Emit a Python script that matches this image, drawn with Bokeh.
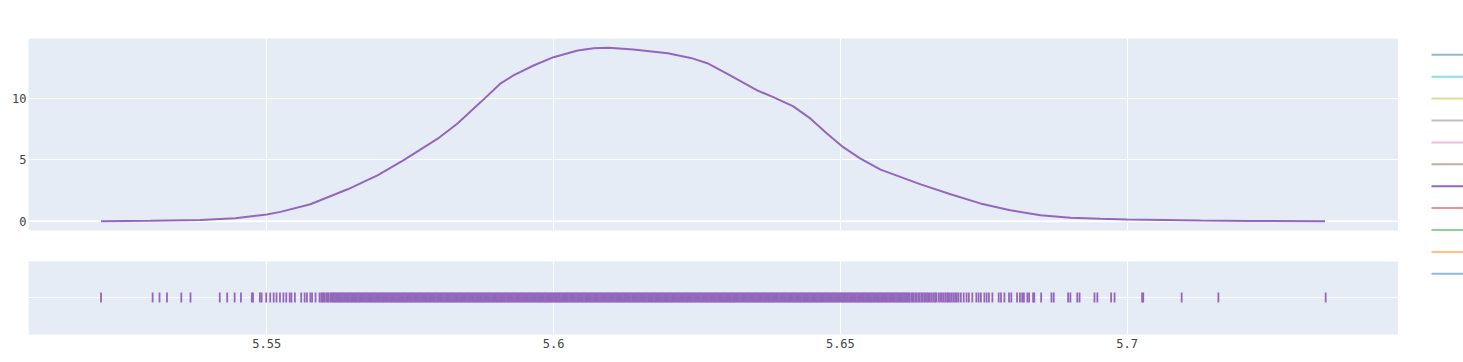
import numpy as np
from bokeh.plotting import figure
from bokeh.models import Range1d, FixedTicker, Span
from bokeh.layouts import row, column
from bokeh.embed import file_html
from bokeh.resources import INLINE

# ---------------- data ----------------
CURVE_X = [5.5211, 5.5297, 5.5384, 5.5445, 5.5500, 5.5524, 5.5576, 5.5641, 5.5693,
           5.5738, 5.5798, 5.5832, 5.5873, 5.5907, 5.5930, 5.5965, 5.6000, 5.6042,
           5.6070, 5.6096, 5.6139, 5.6199, 5.6239, 5.6268, 5.6303, 5.6355, 5.6383,
           5.6418, 5.6448, 5.6477, 5.6503, 5.6535, 5.6570, 5.6640, 5.6692, 5.6744,
           5.6796, 5.6849, 5.6901, 5.6953, 5.7000, 5.7128, 5.7215, 5.7345]
CURVE_Y = [0.0, 0.04, 0.10, 0.25, 0.55, 0.76, 1.38, 2.6, 3.74,
           4.96, 6.72, 7.94, 9.7, 11.2, 11.87, 12.68, 13.36, 13.9,
           14.09, 14.12, 13.98, 13.68, 13.3, 12.87, 12.0, 10.65, 10.1,
           9.35, 8.35, 7.13, 6.1, 5.1, 4.2, 3.0, 2.2, 1.45,
           0.9, 0.48, 0.28, 0.2, 0.14, 0.06, 0.02, 0.0]

# rug sample values, written as 5 + value * 1e-4
RUG_BASE = 5.0
RUG_X_E4 = [
    5211, 5301, 5313, 5326, 5351, 5367, 5418, 5431, 5444, 5455, 5474, 5476, 5488, 5491,
    5499, 5506, 5512, 5517, 5523, 5529, 5534, 5540, 5543, 5549, 5560, 5566, 5570, 5576,
    5579, 5585, 5592, 5595, 5597, 5599, 5601, 5604, 5606, 5608, 5611, 5613, 5615, 5617,
    5619, 5621,
    5623, 5625, 5627, 5629, 5631, 5633, 5635, 5637, 5639, 5641, 5643, 5645, 5647, 5649, 5651, 5653, 5655, 5657, 5659, 5661, 5663, 5665, 5667, 5669, 5671,
    5673, 5675, 5677, 5679, 5681, 5683, 5685, 5687, 5689, 5691, 5693, 5695, 5697, 5699, 5701, 5703, 5705, 5707, 5709, 5711, 5713, 5715, 5717, 5719, 5721,
    5723, 5725, 5727, 5729, 5731, 5733, 5735, 5737, 5739, 5741, 5743, 5745, 5747, 5749, 5751, 5753, 5755, 5757, 5759, 5761, 5763, 5765, 5767, 5769, 5771,
    5773, 5775, 5777, 5779, 5781, 5783, 5785, 5787, 5789, 5791, 5793, 5795, 5797, 5799, 5801, 5803, 5805, 5807, 5809, 5811, 5813, 5815, 5817, 5819, 5821,
    5823, 5825, 5827, 5829, 5831, 5833, 5835, 5837, 5839, 5841, 5843, 5845, 5847, 5849, 5851, 5853, 5855, 5857, 5859, 5861, 5863, 5865, 5867, 5869, 5871,
    5873, 5875, 5877, 5879, 5881, 5883, 5885, 5887, 5889, 5891, 5893, 5895, 5897, 5899, 5901, 5903, 5905, 5907, 5909, 5911, 5913, 5915, 5917, 5919, 5921,
    5923, 5925, 5927, 5929, 5931, 5933, 5935, 5937, 5939, 5941, 5943, 5945, 5947, 5949, 5951, 5953, 5955, 5957, 5959, 5961, 5963, 5965, 5967, 5969, 5971,
    5973, 5975, 5977, 5979, 5981, 5983, 5985, 5987, 5989, 5991, 5993, 5995, 5997, 5999, 6001, 6003, 6005, 6007, 6009, 6011, 6013, 6015, 6017, 6019, 6021,
    6023, 6025, 6027, 6029, 6031, 6033, 6035, 6037, 6039, 6041, 6043, 6045, 6047, 6049, 6051, 6053, 6055, 6057, 6059, 6061, 6063, 6065, 6067, 6069, 6071,
    6073, 6075, 6077, 6079, 6081, 6083, 6085, 6087, 6089, 6091, 6093, 6095, 6097, 6099, 6101, 6103, 6105, 6107, 6109, 6111, 6113, 6115, 6117, 6119, 6121,
    6123, 6125, 6127, 6129, 6131, 6133, 6135, 6137, 6139, 6141, 6143, 6145, 6147, 6149, 6151, 6153, 6155, 6157, 6159, 6161, 6163, 6165, 6167, 6169, 6171,
    6173, 6175, 6177, 6179, 6181, 6183, 6185, 6187, 6189, 6191, 6193, 6195, 6197, 6199, 6201, 6203, 6205, 6207, 6209, 6211, 6213, 6215, 6217, 6219, 6221,
    6223, 6225, 6227, 6229, 6231, 6233, 6235, 6237, 6239, 6241, 6243, 6245, 6247, 6249, 6251, 6253, 6255, 6257, 6259, 6261, 6263, 6265, 6267, 6269, 6271,
    6273, 6275, 6277, 6279, 6281, 6283, 6285, 6287, 6289, 6291, 6293, 6295, 6297, 6299, 6301, 6303, 6305, 6307, 6309, 6311, 6313, 6315, 6317, 6319, 6321,
    6323, 6325, 6327, 6329, 6331, 6333, 6335, 6337, 6339, 6341, 6343, 6345, 6347, 6349, 6351, 6353, 6355, 6357, 6359, 6361, 6363, 6365, 6367, 6369, 6371,
    6373, 6375, 6377, 6379, 6381, 6383, 6385, 6387, 6389, 6391, 6393, 6395, 6397, 6399, 6401, 6403, 6405, 6407, 6409, 6411, 6413, 6415, 6417, 6419, 6421,
    6423, 6425, 6427, 6429, 6431, 6433, 6435, 6437, 6439, 6441, 6443, 6445, 6447, 6449, 6451, 6453, 6455, 6457, 6459, 6461, 6463, 6465, 6467, 6469, 6471,
    6473, 6475, 6477, 6479, 6481, 6483, 6485, 6487, 6489, 6491, 6493, 6495, 6497, 6499, 6501, 6503, 6505, 6507, 6509, 6511, 6513, 6515, 6517, 6519, 6521,
    6523, 6525, 6527, 6529, 6531, 6533, 6535, 6537, 6539, 6541, 6543, 6545, 6547, 6549, 6551, 6553, 6555, 6557, 6559, 6561, 6563, 6565, 6567, 6569, 6571,
    6573, 6575, 6577, 6579, 6581, 6583, 6585, 6587, 6589, 6591, 6593, 6595, 6597, 6599, 6601, 6603, 6605, 6607, 6609, 6611, 6613, 6615, 6617, 6619, 6621,
    6624, 6626, 6628, 6631, 6633, 6636, 6638, 6641, 6643, 6646, 6648, 6651, 6653, 6656,
    6659, 6662, 6665, 6667, 6671, 6674, 6677, 6680, 6683, 6686, 6688, 6691, 6694, 6697,
    6700, 6703, 6706, 6710,
    6715, 6720, 6724, 6730, 6737, 6741, 6745, 6751, 6755, 6759, 6765, 6776, 6780, 6786,
    6794, 6798, 6808, 6813, 6817, 6820, 6826, 6829, 6836, 6838, 6850, 6868, 6872, 6897,
    6901, 6913, 6917, 6943, 6948, 6972, 6978, 7026, 7028, 7095, 7159, 7346,
]

X_TICKS = [5.55, 5.6, 5.65, 5.7]
X_TICK_LABELS = ["5.55", "5.6", "5.65", "5.7"]
Y_TICKS = [0, 5, 10]

# legend entries, top to bottom (only the purple trace is shown, others legend-only)
LEGEND_COLORS = ["#1f77b4", "#17becf", "#bcbd22", "#7f7f7f", "#e377c2", "#8c564b",
                 "#9467bd", "#d62728", "#2ca02c", "#ff7f0e", "#1f77b4"]
LEGEND_SHOWN = [False, False, False, False, False, False, True, False, False, False, False]

# ---------------- style ----------------
BG = "#E5ECF6"
TRACE = "#9467bd"
FONT = "DejaVu Sans Mono"
XR = Range1d(5.50846, 5.7473)

def base(fig):
    fig.background_fill_color = BG
    fig.border_fill_color = "white"
    fig.outline_line_color = None
    fig.grid.grid_line_color = "white"
    fig.grid.grid_line_width = 1
    for ax in fig.axis:
        ax.axis_line_color = None
        ax.major_tick_line_color = None
        ax.minor_tick_line_color = None
        ax.major_tick_out = 0
        ax.major_tick_in = 0
        ax.major_label_text_font = FONT
        ax.major_label_text_font_size = "12px"
        ax.major_label_text_color = "#444444"

# top: KDE curve
p1 = figure(width=1398, height=245, x_range=XR, y_range=Range1d(-0.756, 14.88),
            min_border_left=28, min_border_right=0, min_border_top=38, min_border_bottom=15,
            output_backend="svg", toolbar_location=None)
base(p1)
p1.xaxis.visible = False
p1.xgrid.ticker = FixedTicker(ticks=X_TICKS)
p1.yaxis.ticker = FixedTicker(ticks=Y_TICKS)
p1.ygrid.ticker = FixedTicker(ticks=Y_TICKS)
p1.yaxis.major_label_standoff = 2
zero = Span(location=0, dimension="width", line_color="white", line_width=2, level="underlay")
p1.add_layout(zero)
p1.line(CURVE_X, CURVE_Y, line_color=TRACE, line_width=2)

# bottom: rug (marks are 10 px tall, centred on the row)
rug_x = [RUG_BASE + v / 10000.0 for v in RUG_X_E4]
RUG_HALF = 5 / (73 / 2.03)
p2 = figure(width=1398, height=117, x_range=XR, y_range=Range1d(-1.03, 1.0),
            min_border_left=28, min_border_right=0, min_border_top=16, min_border_bottom=28,
            output_backend="svg", toolbar_location=None)
base(p2)
p2.yaxis.visible = False
p2.ygrid.ticker = FixedTicker(ticks=[0])
p2.xaxis.ticker = FixedTicker(ticks=X_TICKS)
p2.xgrid.ticker = FixedTicker(ticks=X_TICKS)
p2.xaxis.major_label_overrides = {t: l for t, l in zip(X_TICKS, X_TICK_LABELS)}
p2.xaxis.major_label_standoff = 4
nr = len(rug_x)
p2.segment(x0=rug_x, y0=[-RUG_HALF] * nr, x1=rug_x, y1=[RUG_HALF] * nr,
           line_color=TRACE, line_width=1.8)

# legend strip
pl = figure(width=65, height=362, x_range=Range1d(0, 65), y_range=Range1d(362, 0),
            min_border=0, output_backend="svg", toolbar_location=None)
pl.axis.visible = False
pl.grid.visible = False
pl.outline_line_color = None
pl.background_fill_color = "white"
pl.border_fill_color = "white"
n = len(LEGEND_COLORS)
ly = [54.3 + i * 21.9 for i in range(n)]
pl.segment(x0=[33] * n, y0=ly, x1=[75] * n, y1=ly, line_color=LEGEND_COLORS,
           line_alpha=[1.0 if s else 0.5 for s in LEGEND_SHOWN], line_width=2)

layout = row(column(p1, p2), pl)
open("out.html", "w").write(file_html(layout, INLINE))
